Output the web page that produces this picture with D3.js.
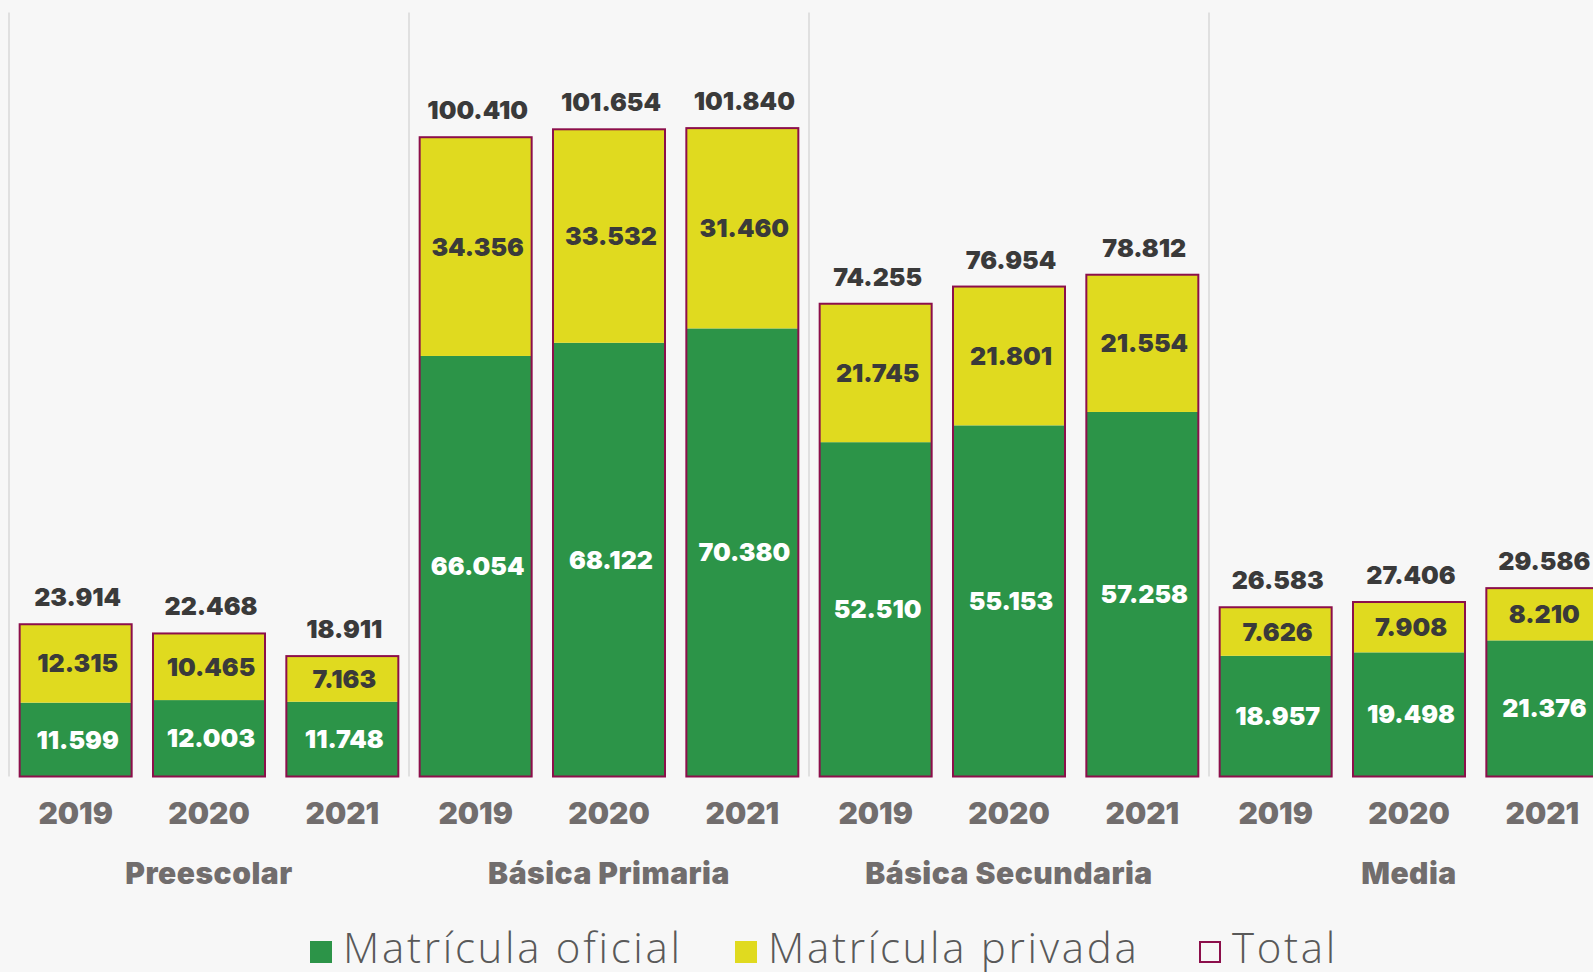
<!DOCTYPE html>
<html>
<head>
<meta charset="utf-8">
<script src="https://cdn.jsdelivr.net/npm/d3@7"></script>
<style>
  body { margin: 0; background: #f7f7f7; }
  svg { display: block; }
</style>
</head>
<body>
<div id="chart"></div>
<script>
const categories = ["Preescolar", "Básica Primaria", "Básica Secundaria", "Media"];
const years = ["2019", "2020", "2021"];
const oficial = [11599, 12003, 11748, 66054, 68122, 70380, 52510, 55153, 57258, 18957, 19498, 21376];
const privada = [12315, 10465, 7163, 34356, 33532, 31460, 21745, 21801, 21554, 7626, 7908, 8210];
const total = [23914, 22468, 18911, 100410, 101654, 101840, 74255, 76954, 78812, 26583, 27406, 29586];
const legendLabels = ["Matrícula oficial", "Matrícula privada", "Total"];

const width = 1593, height = 972;
const colors = { oficial: "#2c9448", privada: "#e0da1f", total: "#8c0f4b" };
const fontBold = "Inter, 'Open Sans', sans-serif";

// build rows from the arrays
const rows = [];
categories.forEach((c, i) => {
    years.forEach((yr, j) => {
        const k = i * years.length + j;
        rows.push({ cat: c, year: yr, oficial: oficial[k], privada: privada[k], total: total[k] });
    });
});

const es = d3.formatLocale({ decimal: ",", thousands: ".", grouping: [3], currency: ["$", ""] });
const fmt = es.format(",d");

const svg = d3.select("#chart").append("svg")
    .attr("width", width)
    .attr("height", height)
    .style("background", "#f7f7f7");

// plot area runs past the right edge, like the original
const x0 = d3.scaleBand().domain(categories).range([9, 1609]);
const x1 = d3.scaleBand().domain(years).range([0, x0.bandwidth()])
    .paddingInner(0.16).paddingOuter(0.08);
const y = d3.scaleLinear().domain([0, 120000]).range([776.5, 12.5]);

// group separators
svg.append("g").selectAll("line")
    .data(categories)
    .join("line")
    .attr("x1", d => x0(d)).attr("x2", d => x0(d))
    .attr("y1", y.range()[1]).attr("y2", y(0))
    .attr("stroke", "#d9d9d9")
    .attr("stroke-width", 1.5);

const bars = svg.append("g").selectAll("g")
    .data(rows)
    .join("g")
    .attr("transform", d => `translate(${x0(d.cat) + x1(d.year)},0)`);

const bw = x1.bandwidth();

bars.append("rect")
    .attr("y", d => y(d.oficial))
    .attr("width", bw)
    .attr("height", d => y(0) - y(d.oficial))
    .attr("fill", colors.oficial);

bars.append("rect")
    .attr("y", d => y(d.oficial + d.privada))
    .attr("width", bw)
    .attr("height", d => y(d.oficial) - y(d.oficial + d.privada))
    .attr("fill", colors.privada);

bars.append("rect")
    .attr("y", d => y(d.total))
    .attr("width", bw)
    .attr("height", d => y(0) - y(d.total))
    .attr("fill", "none")
    .attr("stroke", colors.total)
    .attr("stroke-width", 2);

function boldText(sel, size) {
    return sel.style("font-family", fontBold)
        .style("font-weight", 900)
        .style("font-size", size + "px");
}

// value labels
boldText(bars.append("text"), 25)
    .attr("x", bw / 2 + 2)
    .attr("y", d => (y(0) + y(d.oficial)) / 2)
    .attr("dy", "0.36em")
    .attr("text-anchor", "middle")
    .attr("fill", "#ffffff")
    .text(d => fmt(d.oficial));

boldText(bars.append("text"), 25)
    .attr("x", bw / 2 + 2)
    .attr("y", d => (y(d.oficial) + y(d.total)) / 2)
    .attr("dy", "0.36em")
    .attr("text-anchor", "middle")
    .attr("fill", "#3a3a3a")
    .text(d => fmt(d.privada));

boldText(bars.append("text"), 25)
    .attr("x", bw / 2 + 2)
    .attr("y", d => y(d.total) - 18)
    .attr("text-anchor", "middle")
    .attr("fill", "#3a3a3a")
    .text(d => fmt(d.total));

// year labels
boldText(bars.append("text"), 30)
    .attr("x", bw / 2)
    .attr("y", 824)
    .attr("text-anchor", "middle")
    .attr("fill", "#716d6d")
    .text(d => d.year);

// category labels
boldText(svg.append("g").selectAll("text").data(categories).join("text"), 30)
    .attr("x", d => x0(d) + x0.bandwidth() / 2)
    .attr("y", 884)
    .attr("text-anchor", "middle")
    .style("letter-spacing", "0.5px")
    .attr("fill", "#716d6d")
    .text(d => d);

// legend
const legendX = [310, 735, 1199];
const legend = svg.append("g").selectAll("g")
    .data(legendLabels)
    .join("g")
    .attr("transform", (d, i) => `translate(${legendX[i]},941)`);

legend.append("rect")
    .attr("x", (d, i) => i === 2 ? 1 : 0)
    .attr("y", (d, i) => i === 2 ? 1 : 0)
    .attr("width", (d, i) => i === 2 ? 20 : 22)
    .attr("height", (d, i) => i === 2 ? 20 : 22)
    .attr("fill", (d, i) => i === 0 ? colors.oficial : i === 1 ? colors.privada : "none")
    .attr("stroke", (d, i) => i === 2 ? colors.total : "none")
    .attr("stroke-width", 2);

legend.append("text")
    .attr("x", 33)
    .attr("y", 22)
    .style("font-family", "'Open Sans', sans-serif").style("font-weight", 300).style("font-size", "42px")
    .style("letter-spacing", "2.7px")
    .attr("fill", "#595959")
    .text(d => d);
</script>
</body>
</html>
